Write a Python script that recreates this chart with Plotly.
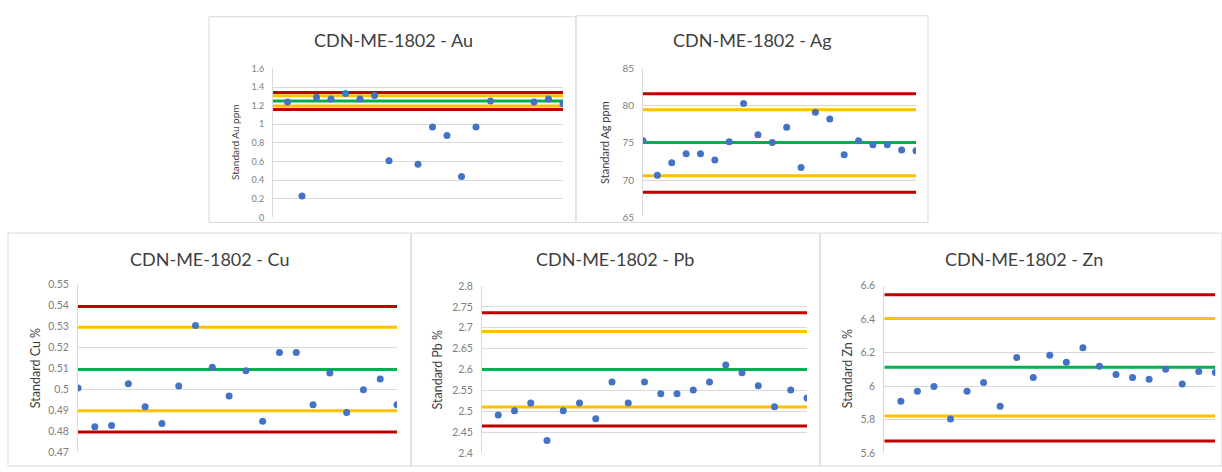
import plotly.graph_objects as go

W, H = 1222, 472

# ---------------- data ----------------
idx = list(range(1, 21))

au_vals = [1.24, 0.23, 1.29, 1.27, 1.33, 1.27, 1.31, 0.61, None, 0.57,
           0.97, 0.88, 0.44, 0.97, 1.25, None, None, 1.24, 1.27, 1.22]
au_limits = [1.16, 1.195, 1.25, 1.305, 1.34]   # -3SD, -2SD, mean, +2SD, +3SD
au_ticks = [0, 0.2, 0.4, 0.6, 0.8, 1.0, 1.2, 1.4, 1.6]
au_ticktext = ["0", "0.2", "0.4", "0.6", "0.8", "1", "1.2", "1.4", "1.6"]

ag_vals = [75.3, 70.65, 72.35, 73.55, 73.55, 72.7, 75.15, 80.3, 76.1, 75.05,
           77.1, 71.7, 79.1, 78.2, 73.4, 75.3, 74.75, 74.75, 74.05, 73.95]
ag_limits = [68.4, 70.6, 75.05, 79.45, 81.6]
ag_ticks = [65, 70, 75, 80, 85]
ag_ticktext = ["65", "70", "75", "80", "85"]

cu_vals = [0.5006, 0.4822, 0.4828, 0.5026, 0.4917, 0.4837, 0.5015, 0.5303, 0.5105, 0.4968,
           0.5088, 0.4848, 0.5175, 0.5175, 0.4926, 0.5077, 0.4889, 0.4997, 0.5049, 0.4926]
cu_limits = [0.4797, 0.4898, 0.5094, 0.5295, 0.5393]
cu_ticks = [0.47, 0.48, 0.49, 0.50, 0.51, 0.52, 0.53, 0.54, 0.55]
cu_ticktext = ["0.47", "0.48", "0.49", "0.5", "0.51", "0.52", "0.53", "0.54", "0.55"]

pb_vals = [2.491, 2.501, 2.520, 2.430, 2.501, 2.520, 2.482, 2.570, 2.520, 2.570,
           2.542, 2.542, 2.551, 2.570, 2.611, 2.592, 2.561, 2.511, 2.551, 2.532]
pb_limits = [2.465, 2.510, 2.600, 2.691, 2.736]
pb_ticks = [2.4, 2.45, 2.5, 2.55, 2.6, 2.65, 2.7, 2.75, 2.8]
pb_ticktext = ["2.4", "2.45", "2.5", "2.55", "2.6", "2.65", "2.7", "2.75", "2.8"]

zn_vals = [5.909, 5.969, 5.998, 5.804, 5.969, 6.021, 5.880, 6.171, 6.052, 6.184,
           6.142, 6.229, 6.118, 6.070, 6.052, 6.041, 6.101, 6.012, 6.087, 6.082]
zn_limits = [5.672, 5.821, 6.113, 6.404, 6.546]
zn_ticks = [5.6, 5.8, 6.0, 6.2, 6.4, 6.6]
zn_ticktext = ["5.6", "5.8", "6", "6.2", "6.4", "6.6"]

titles = ["CDN-ME-1802 - Au", "CDN-ME-1802 - Ag", "CDN-ME-1802 - Cu",
          "CDN-ME-1802 - Pb", "CDN-ME-1802 - Zn"]
ytitles = ["Standard Au ppm", "Standard Ag ppm", "Standard Cu %",
           "Standard Pb %", "Standard Zn %"]

# ---------------- layout geometry (pixels) ----------------
panels = [
    dict(vals=au_vals, lim=au_limits, ticks=au_ticks, tt=au_ticktext,
         px=(273, 563), py=(64, 217), xr=(0, 20), yr=(0, 1.6),
         box=(209, 11, 576, 222), tpos=(393, 35), ytx=235, tfs=9, yfs=10),
    dict(vals=ag_vals, lim=ag_limits, ticks=ag_ticks, tt=ag_ticktext,
         px=(643, 916), py=(64, 217), xr=(1, 20), yr=(65, 85),
         box=(576, 10, 928, 222), tpos=(752, 35), ytx=605, tfs=10, yfs=11),
    dict(vals=cu_vals, lim=cu_limits, ticks=cu_ticks, tt=cu_ticktext,
         px=(78, 397), py=(285.3, 458), xr=(1, 20), yr=(0.47, 0.55),
         box=(8, 233, 411, 472), tpos=(210, 260), ytx=35, tfs=10.5, yfs=12.5),
    dict(vals=pb_vals, lim=pb_limits, ticks=pb_ticks, tt=pb_ticktext,
         px=(482, 807), py=(287.3, 458.7), xr=(0, 20), yr=(2.4, 2.8),
         box=(411, 233, 820, 472), tpos=(615, 260), ytx=438, tfs=10.5, yfs=12.5),
    dict(vals=zn_vals, lim=zn_limits, ticks=zn_ticks, tt=zn_ticktext,
         px=(884.3, 1215.3), py=(287, 458.7), xr=(0, 20), yr=(5.6, 6.6),
         box=(820, 233, 1222, 472), tpos=(1024, 260), ytx=847, tfs=10.5, yfs=12.5),
]

line_colors = ["#C00000", "#FFC000", "#00B050", "#FFC000", "#C00000"]
marker_color = "#4472C4"

fig = go.Figure()
shapes = []
annotations = []


def fx(p):
    return p / W


def fy(p):
    return 1 - p / H


for i, p in enumerate(panels):
    n = "" if i == 0 else str(i + 1)
    xa, ya = "x" + n, "y" + n
    for v, c in zip(p["lim"], line_colors):
        fig.add_trace(go.Scatter(x=[p["xr"][0], p["xr"][1]], y=[v, v], mode="lines",
                                 line=dict(color=c, width=3), xaxis=xa, yaxis=ya,
                                 showlegend=False, hoverinfo="skip"))
    fig.add_trace(go.Scatter(x=idx, y=p["vals"], mode="markers",
                             marker=dict(color=marker_color, size=7),
                             xaxis=xa, yaxis=ya, showlegend=False))
    fig.layout["xaxis" + n] = dict(domain=[fx(p["px"][0]), fx(p["px"][1])],
                                   range=list(p["xr"]), showticklabels=False,
                                   showgrid=False, zeroline=False, showline=False,
                                   anchor=ya, fixedrange=True)
    fig.layout["yaxis" + n] = dict(domain=[fy(p["py"][1]), fy(p["py"][0])],
                                   range=list(p["yr"]), tickvals=p["ticks"],
                                   ticktext=p["tt"], showgrid=True,
                                   gridcolor="#d9d9d9", gridwidth=1, zeroline=False,
                                   showline=True, linecolor="#d9d9d9", linewidth=1,
                                   ticks="", ticklabelstandoff=6,
                                   tickfont=dict(family="Lato", size=p["tfs"], color="#808080"),
                                   anchor=xa, fixedrange=True)
    b = p["box"]
    shapes.append(dict(type="rect", xref="paper", yref="paper",
                       x0=fx(b[0]), x1=fx(b[2]), y0=fy(b[3]), y1=fy(b[1]),
                       line=dict(color="#d9d9d9", width=1), layer="below"))
    annotations.append(dict(text=titles[i], xref="paper", yref="paper",
                            x=fx(p["tpos"][0]), y=fy(p["tpos"][1]),
                            xanchor="center", yanchor="middle", showarrow=False,
                            font=dict(family="Lato", size=18, color="#404040")))
    annotations.append(dict(text=ytitles[i], xref="paper", yref="paper",
                            x=fx(p["ytx"]), y=fy((p["py"][0] + p["py"][1]) / 2),
                            xanchor="center", yanchor="middle", showarrow=False,
                            textangle=-90,
                            font=dict(family="Lato", size=p["yfs"], color="#404040")))

fig.update_layout(width=W, height=H, margin=dict(l=0, r=0, t=0, b=0),
                  paper_bgcolor="white", plot_bgcolor="white",
                  shapes=shapes, annotations=annotations, showlegend=False)

fig.write_html("out.html", config={"displayModeBar": False},
               post_script="document.body.style.margin='0';document.body.style.padding='0';")
